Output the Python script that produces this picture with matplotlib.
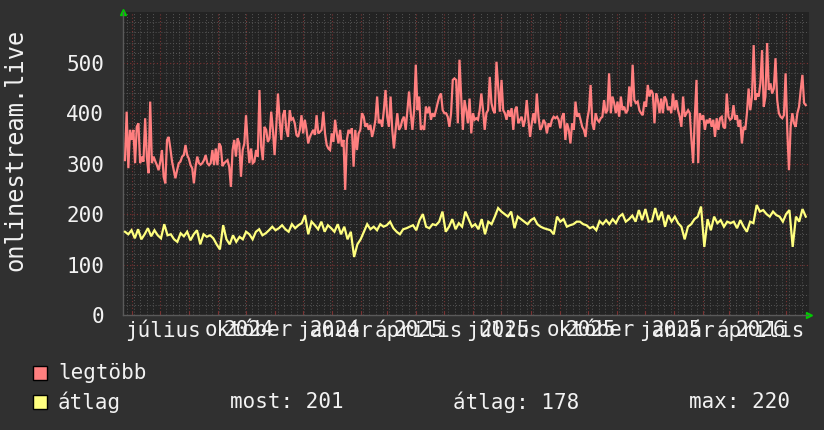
import numpy as np
import matplotlib
matplotlib.use('Agg')
import matplotlib.pyplot as plt
import matplotlib.dates as mdates
from matplotlib.patches import Rectangle

# ---- data ----
legtobb = [
    307, 403, 291, 367, 347, 367, 301, 373, 380, 301, 314, 304, 390, 314, 281, 423, 301, 314, 305, 297,
    287, 304, 327, 274, 261, 347, 353, 330, 304, 287, 271, 287, 301, 304, 314, 317, 337, 317, 310, 297,
    291, 261, 294, 314, 301, 298, 301, 307, 317, 301, 297, 301, 327, 297, 330, 297, 340, 334, 295, 301,
    304, 307,
    294, 254, 327, 347, 314, 350, 340, 274, 327, 340, 396, 340, 301, 330, 301, 304, 327, 314, 446, 334,
    307, 373, 367, 343, 350, 403, 367, 317, 373, 439, 387, 347, 396, 406, 367, 353, 406, 387, 390, 380,
    357, 353, 367, 396, 360, 387, 367, 340, 353, 360, 367, 357, 396, 360, 363, 367, 403, 360, 337, 330,
    327, 360, 343, 387, 360, 340, 367, 334, 347,
    248, 347, 367, 360, 370, 294, 367, 327, 360, 367, 400, 393, 373, 380, 367, 377, 353, 367, 387, 433,
    380, 387, 373, 406, 446, 393, 373, 433, 367, 330, 367, 400, 367, 373, 387, 393, 367, 406, 443, 400,
    367, 406, 496, 406, 433, 367, 373, 367, 413, 400, 413, 387, 400, 393, 406, 420, 433, 439, 406, 400,
    400, 393, 373, 400, 466, 469, 466, 380, 506, 433,
    367, 426, 406, 380, 429, 360, 400, 387, 390, 387, 406, 439, 406, 367, 400, 406, 472, 420, 406, 400,
    502, 453, 403, 466, 406, 400, 387, 406, 393, 410, 367, 406, 413, 380, 387, 393, 373, 387, 426, 387,
    353, 380, 400, 380, 439, 393, 367, 373, 387, 380, 360, 380, 373, 387, 393, 390, 393, 387, 370, 393,
    400, 347, 380, 367, 340, 380, 367, 423, 393, 400,
    387, 373, 367, 353, 387, 406, 456, 380, 367, 400, 387, 383, 390, 393, 426, 400, 406, 479, 400, 433,
    420, 400, 423, 393, 433, 406, 413, 400, 406, 453, 413, 496, 426, 420, 423, 406, 400, 396, 423, 413,
    456, 433, 446, 439, 380, 439, 426, 400, 429, 400, 433, 426, 406, 413, 400, 439, 406, 426, 406, 393,
    373, 433, 393, 400, 406, 400, 347, 301, 393,
    466, 301, 400, 387, 396, 367, 387, 380, 390, 373, 387, 353, 390, 367, 390, 393, 373, 370, 439, 393,
    387, 390, 416, 387, 396, 373, 387, 340, 373, 367, 400, 449, 406, 433, 535, 426, 439, 433, 459, 525,
    413, 433, 539, 446, 459, 439, 449, 509, 426, 400, 393, 390, 396, 479, 367, 287, 373, 400, 380, 373,
    400, 413, 446, 476, 420, 416,
]

atlag = [
    165, 160, 168, 152, 170, 150, 160, 172, 156, 168, 158, 152, 180, 158, 160, 150, 145, 162, 156, 165,
    148, 160, 168, 140, 160, 155, 158, 152, 140, 130, 178, 150, 140, 158,
    145, 155, 150, 165, 160, 150, 165, 170, 158, 162, 168, 175, 168, 172, 178, 170, 165, 180, 172, 178,
    182, 198, 160, 185, 178, 170, 185, 165, 178, 172, 165, 180, 160, 175, 150, 165,
    115, 140, 150, 165, 180, 170, 175, 168, 180, 175, 178, 185, 172, 165, 160, 170, 172, 175, 178, 168,
    188, 200, 175, 172, 180, 178, 185, 205, 165, 175, 190, 170, 182, 175, 205,
    190, 175, 180, 170, 190, 160, 185, 180, 195, 212, 205, 200, 195, 205, 172, 195, 190, 185, 180, 188,
    192, 180, 175, 172, 170, 168, 160, 195, 185, 190, 175, 178, 180, 185, 185,
    180, 178, 172, 175, 168, 186, 180, 188, 180, 190, 182, 195, 200, 185, 190, 197, 185, 208, 188, 210,
    185, 186, 212, 188, 205, 175, 198, 185, 195, 182, 175, 150, 175, 180, 190,
    195, 215, 135, 190, 168, 195, 182, 188, 175, 185, 182, 185, 172, 188, 175, 165, 185, 182, 218, 205,
    208, 200, 195, 205, 198, 195, 185, 200, 208, 135, 195, 185, 210, 195,
]

most, atlag_avg, atlag_max = 201, 178, 220

start = np.datetime64('2024-05-24T20:00')
end = np.datetime64('2026-05-22T00:00')
view_start = np.datetime64('2024-05-23T06:00')
view_end = np.datetime64('2026-05-24T22:00')

month_labels = ['július', 'október', 'január', 'április', 'július', 'október', 'január', 'április']
month_dates = ['2024-07-01', '2024-10-01', '2025-01-01', '2025-04-01',
               '2025-07-01', '2025-10-01', '2026-01-01', '2026-04-01']
year_labels = ['2024', '2024', '2025', '2025', '2025', '2025', '2026']

# ---- style ----
BG = '#303030'
CANVAS = '#232323'
TXT = '#f2f2f2'
RED = '#ff7f7f'
YEL = '#ffff7f'
FONT = 'DejaVu Sans Mono'
plt.rcParams['font.family'] = FONT

W, H = 824, 430
fig = plt.figure(figsize=(W / 100, H / 100), dpi=100, facecolor=BG)
L, R, B, T = 123.5, 808.5, 315.0, 12.3
ax = fig.add_axes([L / W, 1 - B / H, (R - L) / W, (B - T) / H], facecolor=CANVAS)

def dnum(s):
    return mdates.date2num(np.datetime64(s).astype('datetime64[s]').astype(object))

t0, t1 = dnum(start), dnum(end)
x_red = np.linspace(t0, t1, len(legtobb))
x_yel = np.linspace(t0, t1, len(atlag))

ax.plot(x_red, legtobb, color=RED, lw=1.6, solid_joinstyle='miter', zorder=3)
ax.plot(x_yel, atlag, color=YEL, lw=1.6, solid_joinstyle='miter', zorder=3)

ax.set_xlim(dnum(view_start), dnum(view_end))
ax.set_ylim(0, 600)

ax.xaxis.set_major_locator(mdates.MonthLocator())
ax.xaxis.set_minor_locator(mdates.WeekdayLocator(byweekday=mdates.MO))
ax.set_yticks(np.arange(0, 501, 100))
ax.set_yticks(np.arange(0, 600, 20), minor=True)

ax.grid(which='minor', color='#555555', linestyle=(0, (1, 2)), linewidth=0.7)
ax.grid(which='major', color='#7a3232', linestyle=(0, (1, 2)), linewidth=0.8)
ax.set_axisbelow(True)

ax.set_xticklabels([])
ax.tick_params(axis='x', which='major', colors='#7a3232', length=3, direction='in')
ax.tick_params(axis='x', which='minor', length=0)
ax.tick_params(axis='y', which='major', colors=TXT, labelsize=15, length=0, pad=14)
ax.tick_params(axis='y', which='minor', length=0)
for lab in ax.get_yticklabels():
    lab.set_color(TXT)

for sp in ['top', 'right']:
    ax.spines[sp].set_visible(False)
for sp in ['left', 'bottom']:
    ax.spines[sp].set_color('#5a5a5a')
    ax.spines[sp].set_linewidth(1)

# axis arrows
ax.plot([0], [1.0], marker='^', color='#00cc00', ms=5, transform=ax.transAxes, clip_on=False)
ax.plot([1.0], [0], marker='>', color='#00cc00', ms=5, transform=ax.transAxes, clip_on=False)

# x labels (months and years drawn on top of each other like the original)
xt = ax.get_xaxis_transform()
for lbl, d in zip(month_labels, month_dates):
    ax.text(dnum(d) + 3, -0.05, lbl, transform=xt, ha='center', va='center',
            color=TXT, fontsize=15)
for lbl, d in zip(year_labels, month_dates[1:]):
    ax.text(dnum(d) + 3, -0.05, lbl, transform=xt, ha='center', va='center',
            color=TXT, fontsize=15)

# y axis title
fig.text(15 / W, 1 - 150 / H, 'onlinestream.live', rotation=90, ha='center', va='center',
         color=TXT, fontsize=17)

# legend
for col, yc in [(RED, 373), (YEL, 402)]:
    fig.add_artist(Rectangle((33 / W, 1 - (yc + 7) / H), 14 / W, 14 / H,
                             transform=fig.transFigure, facecolor=col, edgecolor='black', lw=1))
fig.text(58 / W, 1 - 373 / H, 'legtöbb', color=TXT, fontsize=15, va='center')
fig.text(58 / W, 1 - 402 / H, 'átlag', color=TXT, fontsize=15, va='center')
fig.text(230 / W, 1 - 402 / H, f'most: {most}', color=TXT, fontsize=15, va='center')
fig.text(453 / W, 1 - 402 / H, f'átlag: {atlag_avg}', color=TXT, fontsize=15, va='center')
fig.text(689 / W, 1 - 402 / H, f'max: {atlag_max}', color=TXT, fontsize=15, va='center')

fig.savefig('out.png', dpi=100, facecolor=BG)
